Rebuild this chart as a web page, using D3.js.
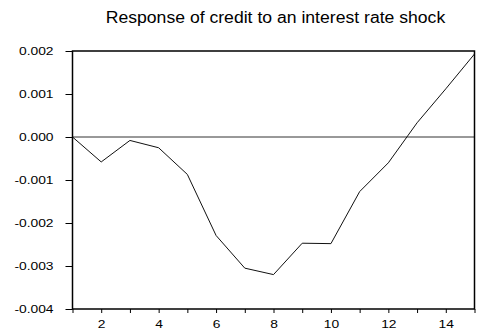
<!DOCTYPE html>
<html>
<head>
<meta charset="utf-8">
<script src="https://cdn.jsdelivr.net/npm/d3@7"></script>
<style>
  body { margin: 0; background: #fff; }
  text { font-family: Arial, "Liberation Sans", sans-serif; fill: #000; }
</style>
</head>
<body>
<div id="chart"></div>
<script>
// chart data
const title = "Response of credit to an interest rate shock";
const periods = [1, 2, 3, 4, 5, 6, 7, 8, 9, 10, 11, 12, 13, 14, 15];
const response = [0.0, -0.00058, -0.00008, -0.00025, -0.00087, -0.00229, -0.00305, -0.0032,
                  -0.00247, -0.00248, -0.00127, -0.0006, 0.00033, 0.00112, 0.00193];
const yTicks = [0.002, 0.001, 0.0, -0.001, -0.002, -0.003, -0.004];
const xLabelTicks = [2, 4, 6, 8, 10, 12, 14];

const width = 477, height = 330;
const margin = { top: 51, right: 2.5, bottom: 21, left: 72.5 };
const stretch = 1.2; // the original text looks a bit wider than Arial

const svg = d3.select("#chart")
    .append("svg")
    .attr("width", width)
    .attr("height", height);

const x = d3.scaleLinear().domain([1, 15]).range([margin.left, width - margin.right]);
const y = d3.scaleLinear().domain([-0.004, 0.002]).range([height - margin.bottom, margin.top]);

// widen a text element horizontally
function widen(sel, k) {
    sel.each(function () {
        const w = this.getComputedTextLength();
        if (w > 0) {
            d3.select(this).attr("textLength", w * k).attr("lengthAdjust", "spacingAndGlyphs");
        }
    });
}

// title
svg.append("text")
    .attr("x", 275.5)
    .attr("y", 23)
    .attr("text-anchor", "middle")
    .style("font-size", "16px")
    .text(title)
    .call(widen, 1.1);

// zero line
svg.append("line")
    .attr("x1", x(1)).attr("x2", x(15))
    .attr("y1", y(0)).attr("y2", y(0))
    .attr("stroke", "#333")
    .attr("stroke-width", 1);

// response line
const line = d3.line()
    .x((d, i) => x(periods[i]))
    .y(d => y(d));

svg.append("path")
    .datum(response)
    .attr("d", line)
    .attr("fill", "none")
    .attr("stroke", "#111")
    .attr("stroke-width", 1);

// y axis
const fmt = d => d3.format(".3f")(d).replace("\u2212", "-").replace(/^-0\.000$/, "0.000");
const yAxis = d3.axisLeft(y)
    .tickValues(yTicks)
    .tickSize(7)
    .tickPadding(12)
    .tickFormat(fmt);

const gy = svg.append("g")
    .attr("transform", `translate(${margin.left},0)`)
    .call(yAxis);
gy.select(".domain").remove();
gy.selectAll("line").attr("stroke", "#000");
gy.selectAll("text").style("font-size", "11.5px").call(widen, stretch);

// x axis (ticks at every period, labels at even ones)
const xAxis = d3.axisBottom(x)
    .tickValues(periods)
    .tickSize(4)
    .tickPadding(7)
    .tickFormat(d => xLabelTicks.includes(d) ? d : "");

const gx = svg.append("g")
    .attr("transform", `translate(0,${height - margin.bottom})`)
    .call(xAxis);
gx.select(".domain").remove();
gx.selectAll("line").attr("stroke", "#000");
gx.selectAll("text").style("font-size", "11.5px").call(widen, stretch);

// frame
svg.append("rect")
    .attr("x", margin.left)
    .attr("y", margin.top)
    .attr("width", width - margin.right - margin.left)
    .attr("height", height - margin.bottom - margin.top)
    .attr("fill", "none")
    .attr("stroke", "#000")
    .attr("stroke-width", 1.5);
</script>
</body>
</html>
